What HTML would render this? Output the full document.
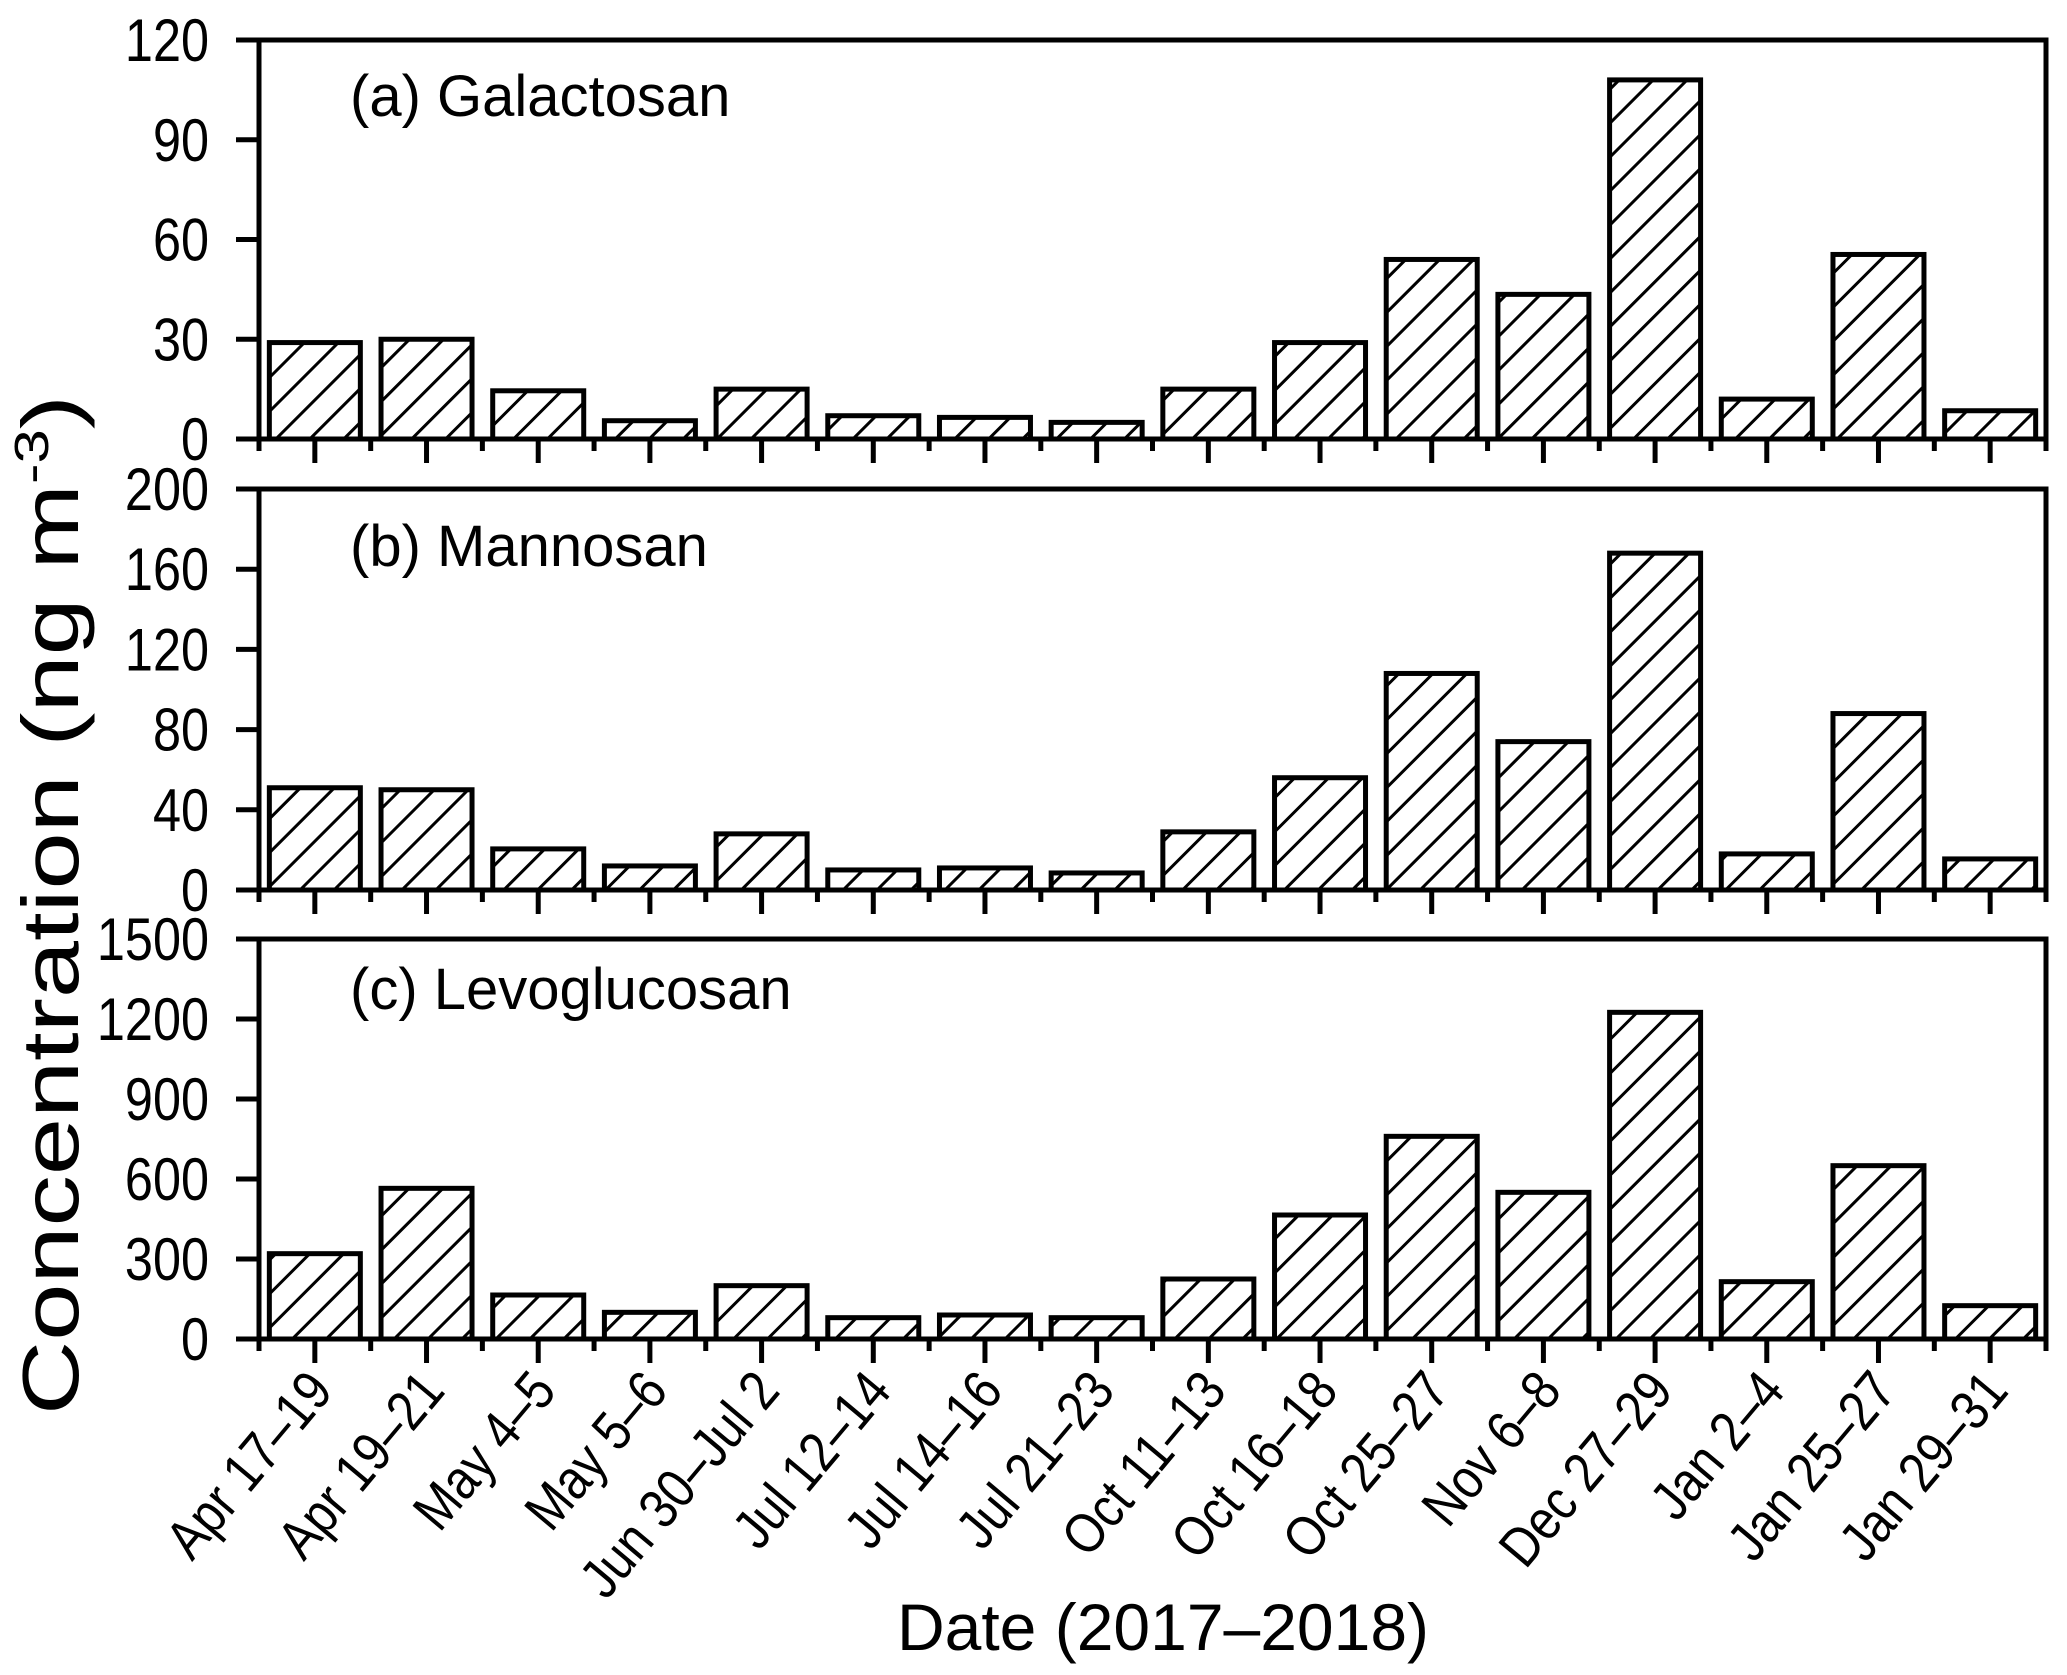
<!DOCTYPE html>
<html><head><meta charset="utf-8"><style>
html,body{margin:0;padding:0;background:#fff;}
svg{display:block;font-family:"Liberation Sans",Arial,sans-serif;}
</style></head><body>
<svg id="chart" width="2067" height="1675" viewBox="0 0 2067 1675" xmlns="http://www.w3.org/2000/svg">
<defs>
<pattern id="hatch" patternUnits="userSpaceOnUse" width="24" height="24" patternTransform="rotate(45)">
<line x1="0" y1="0" x2="0" y2="24" stroke="#000" stroke-width="6"/>
</pattern>
</defs>
<text transform="translate(78,905) rotate(-90)" text-anchor="middle" font-size="80" textLength="1020" lengthAdjust="spacingAndGlyphs">Concentration (ng m<tspan dy="-30" font-size="48">-3</tspan><tspan dy="30">)</tspan></text>
<text x="1163" y="1650" text-anchor="middle" font-size="66">Date (2017–2018)</text>
</svg>
<script>
const categories = ["Apr 17–19","Apr 19–21","May 4–5","May 5–6","Jun 30–Jul 2","Jul 12–14","Jul 14–16","Jul 21–23","Oct 11–13","Oct 16–18","Oct 25–27","Nov 6–8","Dec 27–29","Jan 2–4","Jan 25–27","Jan 29–31"];
const galactosan = [29,30,14.5,5.5,15,7,6.5,5,15,29,54,43.5,108,12,55.5,8.5];
const mannosan = [51,50,20.5,12,28,10,11,8.5,29,56,108,74,168,18,88,15.5];
const levoglucosan = [320,565,165,100,200,80,90,80,225,465,760,550,1225,215,650,125];
const ticksA = [0,30,60,90,120];
const ticksB = [0,40,80,120,160,200];
const ticksC = [0,300,600,900,1200,1500];

const NS = "http://www.w3.org/2000/svg";
const svg = document.getElementById("chart");
const L = 259, R = 2046;
const slot = (R - L) / categories.length;
const barW = 91;
function xCenter(i){ return L + slot * (i + 0.5); }

function mk(tag, attrs, parent){
  const e = document.createElementNS(NS, tag);
  for (const k in attrs) e.setAttribute(k, attrs[k]);
  (parent || svg).appendChild(e);
  return e;
}

const panels = [
  {key:"galactosan", title:"(a) Galactosan", vals:galactosan, ticks:ticksA, top:40, bottom:439, ty:116},
  {key:"mannosan", title:"(b) Mannosan", vals:mannosan, ticks:ticksB, top:489, bottom:890, ty:566},
  {key:"levoglucosan", title:"(c) Levoglucosan", vals:levoglucosan, ticks:ticksC, top:939, bottom:1339, ty:1009}
];

panels.forEach(p => {
  const g = mk("g", {});
  
  
  const max = p.ticks[p.ticks.length - 1];
  const y = v => p.bottom - (v / max) * (p.bottom - p.top);
  p.vals.forEach((v, i) => {
    const r = mk("rect", {x: xCenter(i) - barW/2, y: y(v), width: barW, height: p.bottom - y(v), fill: "url(#hatch)", stroke: "#000", "stroke-width": 5}, g);
    
    
  });
  const f = mk("rect", {x: L, y: p.top, width: R - L, height: p.bottom - p.top, fill: "none", stroke: "#000", "stroke-width": 5}, g);
  
  
  p.ticks.forEach(t => {
    const ln = mk("line", {x1: L - 23, x2: L, y1: y(t), y2: y(t), stroke: "#000", "stroke-width": 5}, g);
    
    
    const tx = mk("text", {transform: "translate(" + (L - 50) + "," + (y(t) + 21) + ") scale(0.84,1)", "text-anchor": "end", "font-size": 60}, g);
    tx.textContent = t;
    
    
  });
  categories.forEach((c, i) => {
    const mj = mk("line", {x1: xCenter(i), x2: xCenter(i), y1: p.bottom, y2: p.bottom + 24, stroke: "#000", "stroke-width": 5}, g);
    
    
  });
  for (let i = 0; i <= categories.length; i++) {
    const xx = L + slot * i;
    const mn = mk("line", {x1: xx, x2: xx, y1: p.bottom, y2: p.bottom + 12, stroke: "#000", "stroke-width": 5}, g);
    
    
  }
  const tt = mk("text", {x: 350, y: p.ty, "font-size": 58}, g);
  tt.textContent = p.title;
  
  
});

categories.forEach((c, i) => {
  const t = mk("text", {transform: "translate(" + (xCenter(i) + 20) + ",1392) rotate(-50) scale(0.86,1)", "text-anchor": "end", "font-size": 56});
  t.textContent = c;
  
  
});
</script>
</body></html>
